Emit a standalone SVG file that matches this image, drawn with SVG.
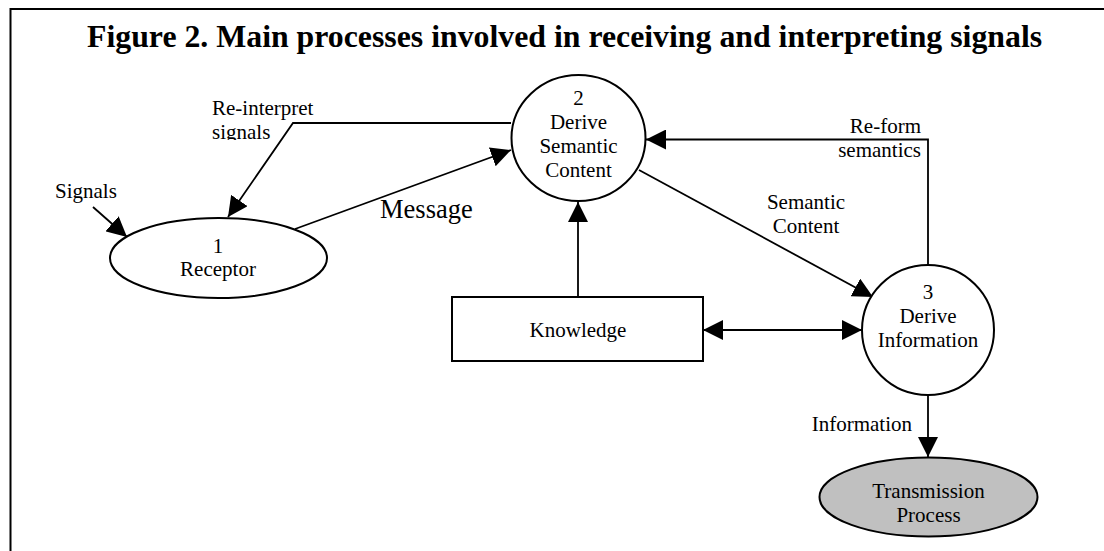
<svg xmlns="http://www.w3.org/2000/svg" width="1104" height="551" viewBox="0 0 1104 551">
  <style>
    .txt { font-family: "Liberation Serif", "Times New Roman", serif; font-size: 21px; fill: #000; }
    .mid { text-anchor: middle; }
    .end { text-anchor: end; }
    .title { font-family: "Liberation Serif", "Times New Roman", serif; font-size: 31.8px; font-weight: bold; fill: #000; }
    .node { fill: #fff; stroke: #000; stroke-width: 2; }
    .grey { fill: #c0c0c0; stroke: #000; stroke-width: 2; }
    .wire { fill: none; stroke: #000; stroke-width: 1.8; }
    .arr { marker-end: url(#head); }
  </style>
  <defs>
    <marker id="head" markerUnits="userSpaceOnUse" markerWidth="20" markerHeight="20" refX="20" refY="10" orient="auto-start-reverse">
      <path d="M0,0 L20,10 L0,20 Z" fill="#000"/>
    </marker>
    <!-- the two-line label box cuts off the descender of its last line -->
    <clipPath id="clipLabel">
      <rect x="200" y="90" width="130" height="50"/>
    </clipPath>
  </defs>

  <rect width="1104" height="551" fill="#fff"/>

  <!-- frame -->
  <path d="M10.5,551 L10.5,9 L1104,9" fill="none" stroke="#000" stroke-width="2"/>

  <text class="title" x="87" y="47">Figure 2. Main processes involved in receiving and interpreting signals</text>

  <!-- connectors -->
  <g id="connectors">
    <line class="wire arr" x1="93" y1="207" x2="127" y2="237"/>
    <polyline class="wire arr" points="511,123 293,123 228,217"/>
    <line class="wire arr" x1="295" y1="229" x2="511" y2="150"/>
    <line class="wire arr" x1="578" y1="297" x2="578" y2="202"/>
    <line class="wire arr" x1="639" y1="170" x2="873" y2="297"/>
    <polyline class="wire arr" points="928,265 928,139.5 646,139.5"/>
    <line class="wire" x1="703" y1="330" x2="862" y2="330" marker-start="url(#head)" marker-end="url(#head)"/>
    <line class="wire arr" x1="928" y1="395" x2="928" y2="457"/>

    <text class="txt" x="55" y="198">Signals</text>
    <g clip-path="url(#clipLabel)">
      <text class="txt" x="212" y="115">Re-interpret</text>
      <text class="txt" x="212" y="138.5">signals</text>
    </g>
    <text class="txt" x="380" y="218" style="font-size:26.5px">Message</text>
    <text class="txt mid" x="806" y="209">Semantic</text>
    <text class="txt mid" x="806" y="232.5">Content</text>
    <text class="txt end" x="921" y="133">Re-form</text>
    <text class="txt end" x="921" y="157">semantics</text>
    <text class="txt end" x="912" y="431">Information</text>
  </g>

  <!-- 1 Receptor -->
  <g id="receptor">
    <ellipse class="node" cx="218.5" cy="258" rx="108.5" ry="40"/>
    <text class="txt mid" x="218" y="253">1</text>
    <text class="txt mid" x="218" y="276">Receptor</text>
  </g>

  <!-- 2 Derive Semantic Content -->
  <g id="derive-semantic">
    <ellipse class="node" cx="578.5" cy="138" rx="67" ry="63"/>
    <text class="txt mid" x="578.5" y="104.5">2</text>
    <text class="txt mid" x="578.5" y="129">Derive</text>
    <text class="txt mid" x="578.5" y="153">Semantic</text>
    <text class="txt mid" x="578.5" y="176.5">Content</text>
  </g>

  <!-- Knowledge store -->
  <g id="knowledge">
    <rect class="node" x="452" y="297" width="251" height="64"/>
    <text class="txt mid" x="578" y="337">Knowledge</text>
  </g>

  <!-- 3 Derive Information -->
  <g id="derive-information">
    <ellipse class="node" cx="928" cy="330" rx="66" ry="65"/>
    <text class="txt mid" x="928" y="299">3</text>
    <text class="txt mid" x="928" y="323">Derive</text>
    <text class="txt mid" x="928" y="347">Information</text>
  </g>

  <!-- Transmission Process -->
  <g id="transmission">
    <ellipse class="grey" cx="928.5" cy="497" rx="109" ry="39.5"/>
    <text class="txt mid" x="928.5" y="497.5">Transmission</text>
    <text class="txt mid" x="928.5" y="521.5">Process</text>
  </g>
</svg>
